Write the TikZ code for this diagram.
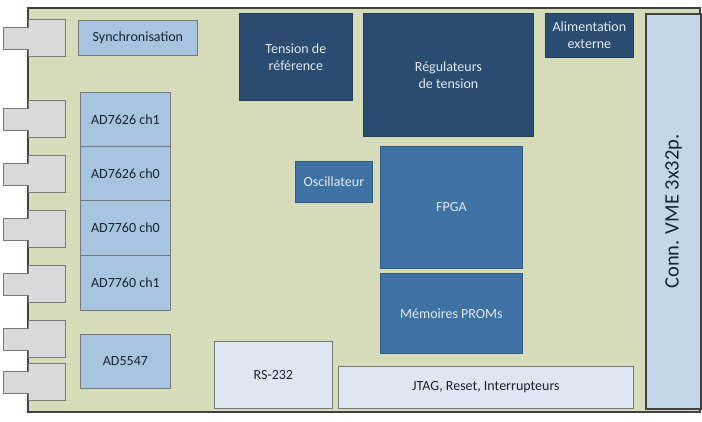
\documentclass[tikz,border=0pt]{standalone}
\usepackage{fontspec}
\setmainfont{Carlito}
\definecolor{boardfill}{RGB}{214,220,186}
\definecolor{boardline}{RGB}{64,64,64}
\definecolor{lblue}{RGB}{167,196,224}
\definecolor{navy}{RGB}{41,76,112}
\definecolor{mblue}{RGB}{62,114,164}
\definecolor{pale}{RGB}{222,231,241}
\definecolor{vmefill}{RGB}{197,214,232}
\definecolor{connfill}{RGB}{217,217,217}
\definecolor{edge}{RGB}{120,120,120}
\definecolor{darktext}{RGB}{25,35,50}
\definecolor{lighttext}{RGB}{225,232,240}
\tikzset{
  blk/.style={anchor=north west, draw=edge, line width=0.8pt, inner sep=0pt,
    font=\fontsize{14}{17}\selectfont, align=center},
  lbox/.style={blk, fill=lblue, text=darktext},
  nbox/.style={blk, fill=navy, draw=navy!80!black, text=lighttext},
  mbox/.style={blk, fill=mblue, draw=mblue!80!black, text=lighttext},
  pbox/.style={blk, fill=pale, text=darktext},
  conn/.style={fill=connfill, draw=edge, line width=0.8pt},
}
\newcommand{\bnc}[1]{\draw[conn] (3,#1+8) -- (28,#1+8) -- (28,#1) -- (65,#1) -- (65,#1+37) -- (28,#1+37) -- (28,#1+30) -- (3,#1+30) -- cycle;}
\begin{document}
\begin{tikzpicture}[x=1pt,y=-1pt]
\useasboundingbox (0,0) rectangle (702,421);
% board
\draw[fill=boardfill, draw=boardline, line width=2.5pt] (28,8) rectangle (700,412);
% connectors
\bnc{19}
\bnc{100}
\bnc{155}
\bnc{210}
\bnc{265}
\bnc{320}
\bnc{363}
% blocks
\node[lbox, minimum width=119pt, minimum height=35pt] (sync) at (78,20) {Synchronisation};
\node[lbox, minimum width=90pt, minimum height=54pt] (ad1) at (80,92) {AD7626 ch1};
\node[lbox, minimum width=90pt, minimum height=54pt] (ad2) at (80,146) {AD7626 ch0};
\node[lbox, minimum width=90pt, minimum height=55pt] (ad3) at (80,200) {AD7760 ch0};
\node[lbox, minimum width=90pt, minimum height=55pt] (ad4) at (80,255) {AD7760 ch1};
\node[lbox, minimum width=90pt, minimum height=54pt] (dac) at (80,334) {AD5547};
\node[nbox, minimum width=113pt, minimum height=87pt] (tens) at (239,13) {Tension de\\référence};
\node[nbox, minimum width=170pt, minimum height=123pt] (reg) at (363,13) {Régulateurs\\de tension};
\node[nbox, minimum width=88pt, minimum height=44pt] (alim) at (545,13) {Alimentation\\externe};
\node[mbox, minimum width=77pt, minimum height=41pt] (osc) at (295,161) {Oscillateur};
\node[mbox, minimum width=142pt, minimum height=122pt] (fpga) at (380,146) {FPGA};
\node[mbox, minimum width=142pt, minimum height=80pt] (prom) at (380,273) {Mémoires PROMs};
\node[pbox, minimum width=118pt, minimum height=67pt] (rs) at (214,341) {RS-232};
\node[pbox, minimum width=295pt, minimum height=42pt] (jtag) at (338,366) {JTAG, Reset, Interrupteurs};
\node[anchor=north west, fill=vmefill, draw=boardline, line width=2pt, minimum width=55pt, minimum height=395pt, inner sep=0pt] (vme) at (645,13) {};
\node[rotate=90, font=\fontsize{20.5}{24}\selectfont, text=darktext] (vmetxt) at (vme.center) {Conn. VME 3x32p.};
\end{tikzpicture}
\end{document}
